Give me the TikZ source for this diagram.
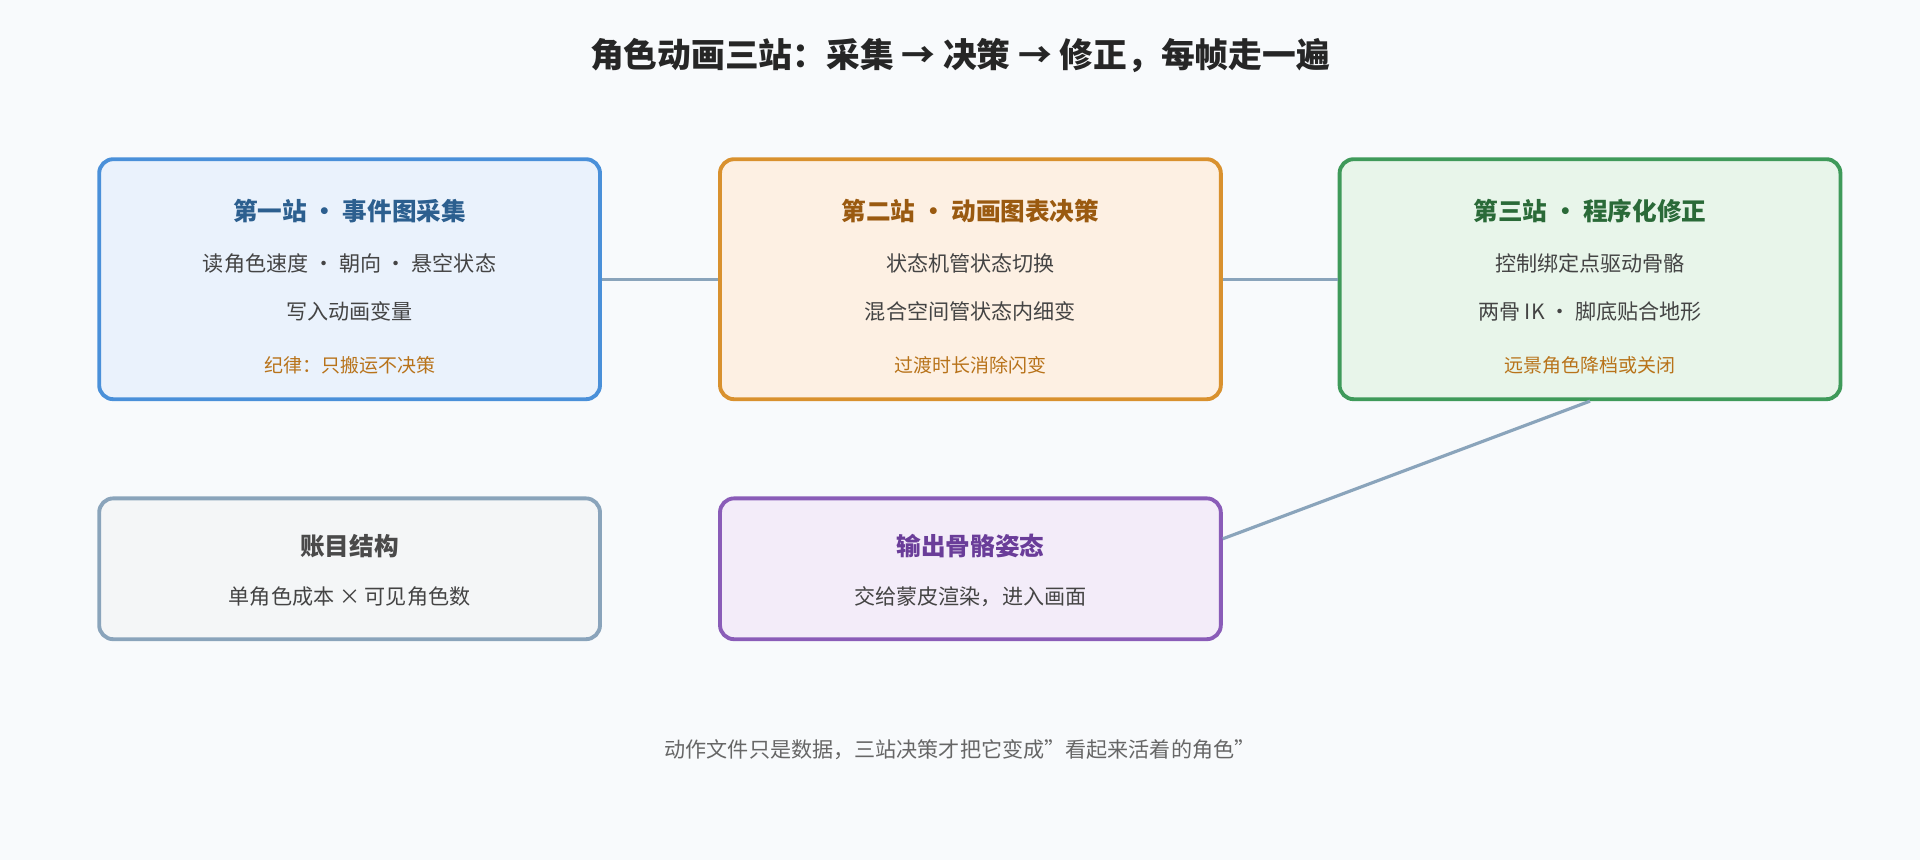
\documentclass[tikz,border=0pt]{standalone}
\usepackage{fontspec}
\setmainfont{Noto Sans CJK SC}
\usetikzlibrary{positioning}
\definecolor{bg}{HTML}{F8FAFC}
\definecolor{link}{HTML}{8AA4BB}
\definecolor{body}{HTML}{444444}
\definecolor{note}{HTML}{B8731A}
\definecolor{blueline}{HTML}{4A90D9}
\definecolor{bluefill}{HTML}{EAF2FC}
\definecolor{bluetext}{HTML}{2C5F8F}
\definecolor{orangeline}{HTML}{D9912E}
\definecolor{orangefill}{HTML}{FDF0E3}
\definecolor{orangetext}{HTML}{9A5A10}
\definecolor{greenline}{HTML}{3F9A5A}
\definecolor{greenfill}{HTML}{E8F5EA}
\definecolor{greentext}{HTML}{2A6A38}
\definecolor{grayfill}{HTML}{F4F6F7}
\definecolor{graytext}{HTML}{4A4A4A}
\definecolor{purpleline}{HTML}{8A5CB8}
\definecolor{purplefill}{HTML}{F3ECF9}
\definecolor{purpletext}{HTML}{6A3D99}
\definecolor{foottext}{HTML}{666666}
\newlength{\pxu}
\setlength{\pxu}{0.012245cm}
\tikzset{
  box/.style={draw, line width=1.1pt, rounded corners=4pt, minimum width=409*\pxu, minimum height=#1*\pxu, inner sep=0pt},
  head/.style={font=\fontsize{7}{8}\selectfont\bfseries},
  line/.style={font=\fontsize{6}{7}\selectfont, text=body},
  rule/.style={font=\fontsize{5.4}{6.5}\selectfont, text=note},
  link/.style={draw=link, line width=0.9pt}
}
\begin{document}
\begin{tikzpicture}[x=\pxu, y=-\pxu]
	\fill[bg] (0,0) rectangle (1568,702);
	%title
	\node[font=\fontsize{9.6}{11}\selectfont\bfseries, text=black!85] (title) at (784,45) {角色动画三站：采集 → 决策 → 修正，每帧走一遍};
	%stations
	\node[box=196, draw=blueline, fill=bluefill] (one) at (285.5,228) {};
	\node[head, text=bluetext] (oneh) at (285.5,172) {第一站 • 事件图采集};
	\node[line] (onea) at (285.5,215) {读角色速度 · 朝向 · 悬空状态};
	\node[line] (oneb) at (285.5,254) {写入动画变量};
	\node[rule] (onec) at (285.5,298) {纪律：只搬运不决策};
	\node[box=196, draw=orangeline, fill=orangefill] (two) at (792.5,228) {};
	\node[head, text=orangetext] (twoh) at (792.5,172) {第二站 • 动画图表决策};
	\node[line] (twoa) at (792.5,215) {状态机管状态切换};
	\node[line] (twob) at (792.5,254) {混合空间管状态内细变};
	\node[rule] (twoc) at (792.5,298) {过渡时长消除闪变};
	\node[box=196, draw=greenline, fill=greenfill] (three) at (1298.5,228) {};
	\node[head, text=greentext] (threeh) at (1298.5,172) {第三站 • 程序化修正};
	\node[line] (threea) at (1298.5,215) {控制绑定点驱动骨骼};
	\node[line] (threeb) at (1298.5,254) {两骨 IK · 脚底贴合地形};
	\node[rule] (threec) at (1298.5,298) {远景角色降档或关闭};
	%bottom row
	\node[box=115, draw=link, fill=grayfill] (cost) at (285.5,464.5) {};
	\node[head, text=graytext] (costh) at (285.5,446) {账目结构};
	\node[line] (costa) at (285.5,487) {单角色成本 × 可见角色数};
	\node[box=115, draw=purpleline, fill=purplefill] (pose) at (792.5,464.5) {};
	\node[head, text=purpletext] (poseh) at (792.5,446) {输出骨骼姿态};
	\node[line] (posea) at (792.5,487) {交给蒙皮渲染，进入画面};
	%links
	\draw[link] (one) -- (two);
	\draw[link] (two) -- (three);
	\draw[link] (three.south) -- ([yshift=24.5*\pxu]pose.east);
	%footer
	\node[line, text=foottext] (foot) at (784,612) {动作文件只是数据，三站决策才把它变成"看起来活着的角色"};
\end{tikzpicture}
\end{document}
